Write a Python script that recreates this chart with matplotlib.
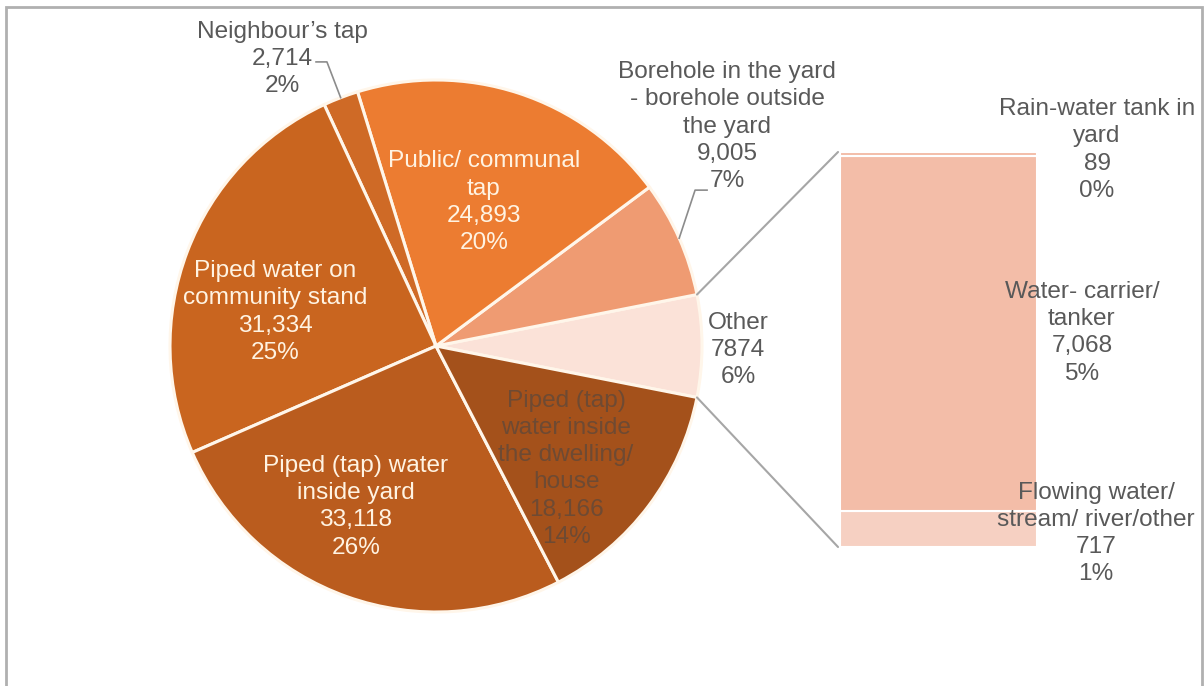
import numpy as np
import matplotlib
matplotlib.use("Agg")
import matplotlib.pyplot as plt
from matplotlib.patches import ConnectionPatch, Rectangle

plt.rcParams['font.family'] = ['Liberation Sans', 'DejaVu Sans']

# Main pie: sources of drinking water (households)
pie_labels = ["Other", "Borehole in the yard\n- borehole outside\nthe yard", "Public/ communal\ntap",
              "Neighbour\u2019s tap", "Piped water on\ncommunity stand",
              "Piped (tap) water\ninside yard", "Piped (tap)\nwater inside\nthe dwelling/\nhouse"]
pie_values = [7874, 9005, 24893, 2714, 31334, 33118, 18166]
pie_value_text = ["7874", "9,005", "24,893", "2,714", "31,334", "33,118", "18,166"]
pie_pct_text = ["6%", "7%", "20%", "2%", "25%", "26%", "14%"]
pie_colors = ["#FBE2D8", "#EF9B72", "#EC7C31", "#CF6A26", "#C9651F", "#BA5C1E", "#A4511B"]

# Breakdown of "Other" shown as a stacked bar (bottom to top)
bar_labels = ["Flowing water/\nstream/ river/other", "Water- carrier/\ntanker", "Rain-water tank in\nyard"]
bar_values = [717, 7068, 89]
bar_value_text = ["717", "7,068", "89"]
bar_pct_text = ["1%", "5%", "0%"]
bar_colors = ["#F6D0C2", "#F3BDA8", "#F3BDA8"]

W, H = 1204, 686
fig = plt.figure(figsize=(W / 100, H / 100), dpi=100)
fig.patch.set_facecolor("white")

# outer chart frame
fig.patches.append(Rectangle((6 / W, -0.02), (1202 - 6) / W, 1.02 - 7 / H,
                             transform=fig.transFigure, fill=False,
                             edgecolor="#B0B0B0", linewidth=2, clip_on=False))

# pie axes: centre (436, 346) px, radius 266 px
cx, cy, r = 436, 346, 266
ax = fig.add_axes([(cx - r) / W, (H - cy - r) / H, 2 * r / W, 2 * r / H])
total = sum(pie_values)
other_angle = 360 * pie_values[0] / total
wedges, _ = ax.pie(pie_values, colors=pie_colors, startangle=-other_angle / 2,
                   counterclock=True, radius=1.0,
                   wedgeprops=dict(edgecolor="#FFF6EA", linewidth=2.2))
ax.set_xlim(-1, 1)
ax.set_ylim(-1, 1)
ax.set_aspect("auto")
ax.axis("off")

fs = 17.6
ls = 1.3
light = "#FFF3E2"
grey = "#595959"

# label anchor positions (pie data units) and text colours
label_pos = [(1.135, -0.015), (1.094, 0.825), (0.180, 0.541), (-0.579, 1.079),
             (-0.605, 0.128), (-0.301, -0.605), (0.489, -0.462)]
label_col = [grey, grey, light, grey, light, light, "#6E4A33"]
for i, (lab, vt, p) in enumerate(zip(pie_labels, pie_value_text, pie_pct_text)):
    x, y = label_pos[i]
    ax.text(x, y, f"{lab}\n{vt}\n{p}", ha="center", va="center", fontsize=fs,
            color=label_col[i], linespacing=ls, clip_on=False)

# leader lines for the small outside-labelled slices
def edge_point(w, rad=1.0):
    a = np.deg2rad((w.theta1 + w.theta2) / 2)
    return rad * np.cos(a), rad * np.sin(a)

ex, ey = edge_point(wedges[3])
ax.plot([-0.451, -0.410, ex], [1.068, 1.068, ey], color="#8C8C8C", lw=1.2, clip_on=False)
ex, ey = edge_point(wedges[1])
ax.plot([1.019, 0.974, ex], [0.586, 0.586, ey], color="#8C8C8C", lw=1.2, clip_on=False)

# stacked bar for the "Other" breakdown
bx0, bx1, by0, by1 = 840, 1037, 152, 547
bax = fig.add_axes([bx0 / W, (H - by1) / H, (bx1 - bx0) / W, (by1 - by0) / H])
bottom = 0
for v, c in zip(bar_values, bar_colors):
    bax.bar(0, v, width=1.0, bottom=bottom, color=c, edgecolor="white", linewidth=1.5)
    bottom += v
bax.set_xlim(-0.5, 0.5)
bax.set_ylim(0, sum(bar_values))
bax.axis("off")

bar_text_pos = [(1.30, 0.035), (1.228, 0.542), (1.305, 1.005)]
for lab, vt, p, (x, y) in zip(bar_labels, bar_value_text, bar_pct_text, bar_text_pos):
    bax.text(x, y, f"{lab}\n{vt}\n{p}", transform=bax.transAxes, ha="center", va="center",
             fontsize=fs, color=grey, linespacing=ls, clip_on=False)

# connector lines from the "Other" slice to the bar
w0 = wedges[0]
for ang, ytop in ((w0.theta2, sum(bar_values)), (w0.theta1, 0)):
    a = np.deg2rad(ang)
    con = ConnectionPatch(xyA=(np.cos(a), np.sin(a)), coordsA=ax.transData,
                          xyB=(-0.51, ytop), coordsB=bax.transData,
                          color="#A6A6A6", lw=1.5)
    fig.add_artist(con)

fig.savefig("out.png", dpi=100, facecolor="white")
